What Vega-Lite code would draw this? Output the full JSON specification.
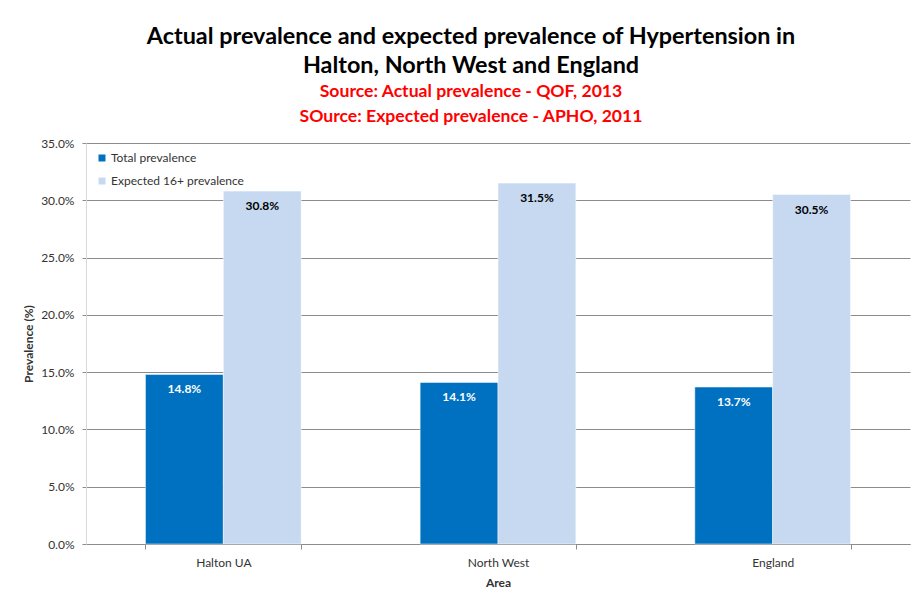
{
  "$schema": "https://vega.github.io/schema/vega-lite/v6.json",
  "width": 824,
  "height": 401,
  "autosize": {"type": "none"},
  "padding": {"left": 86, "top": 143, "right": 4, "bottom": 56},
  "background": "white",
  "title": {
    "text": ["Actual prevalence and expected prevalence of Hypertension in", "Halton, North West and England"],
    "subtitle": ["Source: Actual prevalence - QOF, 2013", "SOurce: Expected prevalence - APHO, 2011"],
    "font": "Lato",
    "fontSize": 23.4,
    "fontWeight": "bold",
    "color": "#000000",
    "lineHeight": 29,
    "subtitleFont": "Lato",
    "subtitleFontSize": 17.6,
    "subtitleFontWeight": "bold",
    "subtitleColor": "#ff0000",
    "subtitleLineHeight": 25,
    "subtitlePadding": 5,
    "anchor": "middle",
    "frame": "group",
    "dx": -27,
    "offset": 10
  },
  "data": {
    "values": [
      {"area": "Halton UA", "series": "Total prevalence", "value": 0.148},
      {"area": "Halton UA", "series": "Expected 16+ prevalence", "value": 0.308},
      {"area": "North West", "series": "Total prevalence", "value": 0.141},
      {"area": "North West", "series": "Expected 16+ prevalence", "value": 0.315},
      {"area": "England", "series": "Total prevalence", "value": 0.137},
      {"area": "England", "series": "Expected 16+ prevalence", "value": 0.305}
    ]
  },
  "encoding": {
    "x": {
      "field": "area",
      "type": "nominal",
      "sort": ["Halton UA", "North West", "England"],
      "scale": {"paddingInner": 0.433, "paddingOuter": 0.2165},
      "axis": {
        "title": "Area",
        "labelAngle": 0,
        "labelFont": "Lato",
        "labelFontSize": 12,
        "labelColor": "#333333",
        "labelPadding": 8,
        "titleFont": "Lato",
        "titleFontSize": 12,
        "titleFontWeight": "bold",
        "titleColor": "#333333",
        "titlePadding": 9,
        "domainColor": "#8c8c8c",
        "tickColor": "#8c8c8c",
        "tickSize": 5,
        "tickBand": "extent",
        "grid": false
      }
    },
    "xOffset": {
      "field": "series",
      "type": "nominal",
      "sort": ["Total prevalence", "Expected 16+ prevalence"],
      "scale": {"paddingInner": 0, "paddingOuter": 0}
    },
    "y": {
      "field": "value",
      "type": "quantitative",
      "scale": {"domain": [0, 0.35], "nice": false},
      "axis": {
        "title": "Prevalence (%)",
        "values": [0, 0.05, 0.1, 0.15, 0.2, 0.25, 0.3, 0.35],
        "format": ".1%",
        "labelFont": "Lato",
        "labelFontSize": 12,
        "labelColor": "#333333",
        "labelPadding": 8,
        "titleFont": "Lato",
        "titleFontSize": 12,
        "titleFontWeight": "bold",
        "titleColor": "#333333",
        "titlePadding": 5,
        "domainColor": "#d9d9d9",
        "tickColor": "#8c8c8c",
        "tickSize": 4,
        "gridColor": "#8c8c8c",
        "gridWidth": 1
      }
    }
  },
  "layer": [
    {
      "mark": {"type": "bar", "stroke": "white", "strokeWidth": 0.5},
      "encoding": {
        "color": {
          "field": "series",
          "type": "nominal",
          "sort": ["Total prevalence", "Expected 16+ prevalence"],
          "scale": {"domain": ["Total prevalence", "Expected 16+ prevalence"], "range": ["#0070c0", "#c6d9f1"]},
          "legend": {
            "title": null,
            "orient": "none",
            "legendX": 10,
            "legendY": 9,
            "symbolType": "square",
            "symbolSize": 49,
            "symbolStrokeWidth": 0,
            "labelFont": "Lato",
            "labelFontSize": 12,
            "labelColor": "#333333",
            "rowPadding": 11,
            "labelOffset": 3
          }
        }
      }
    },
    {
      "mark": {"type": "text", "font": "Lato", "fontSize": 12, "fontWeight": "bold", "baseline": "middle", "dy": 15},
      "encoding": {
        "text": {"field": "value", "type": "quantitative", "format": ".1%"},
        "color": {
          "field": "series",
          "type": "nominal",
          "scale": {"domain": ["Total prevalence", "Expected 16+ prevalence"], "range": ["#ffffff", "#000000"]},
          "legend": null
        }
      }
    }
  ],
  "resolve": {"scale": {"color": "independent"}},
  "config": {"view": {"stroke": null}}
}
